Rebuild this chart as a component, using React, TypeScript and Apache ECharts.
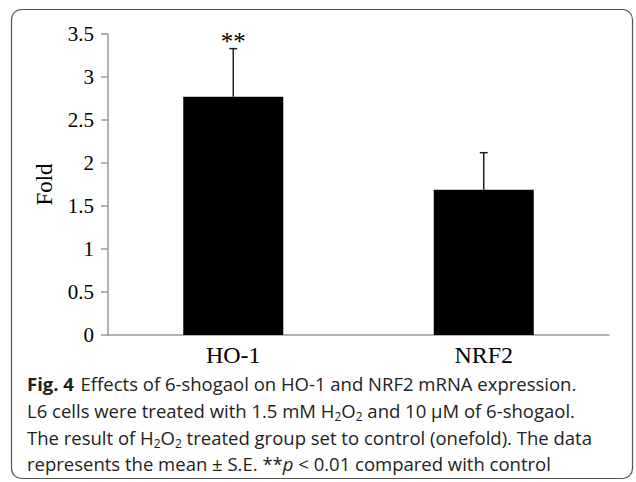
import React, { useEffect, useRef } from "react";
import * as echarts from "echarts";

const categories = ["HO-1", "NRF2"];
const means = [2.77, 1.69];
const upperErrors = [3.33, 2.12];
const significance = ["**", ""];
const yTicks = { min: 0, max: 3.5, interval: 0.5 };

const serif = "'Liberation Serif', 'Times New Roman', serif";
const sans = "'Open Sans', 'Noto Sans', sans-serif";

export default function App() {
  const ref = useRef<HTMLDivElement>(null);
  useEffect(() => {
    if (!ref.current) return;
    const chart = echarts.init(ref.current, undefined, { renderer: "svg" });
    const capFont = 18.5;
    const lineStyles = {
      b: { fontFamily: sans, fontSize: capFont, fontWeight: "bold", fill: "#222" },
      n: { fontFamily: sans, fontSize: capFont, fill: "#222" },
      i: { fontFamily: sans, fontSize: capFont, fontStyle: "italic", fill: "#222" },
      s: { fontFamily: sans, fontSize: 12, fill: "#222", padding: [13, 0, 0, 0] },
    };
    const captionLines = [
      "{b|Fig. 4}  {n|Effects of 6-shogaol on HO-1 and NRF2 mRNA expression.}",
      "{n|L6 cells were treated with 1.5 mM H}{s|2}{n|O}{s|2}{n| and 10 μM of 6-shogaol.}",
      "{n|The result of H}{s|2}{n|O}{s|2}{n| treated group set to control (onefold). The data}",
      "{n|represents the mean ± S.E. **}{i|p}{n| < 0.01 compared with control}",
    ];
    const captionY = [383, 410, 437, 463];
    chart.setOption({
      animation: false,
      backgroundColor: "#fff",
      grid: { left: 108, right: 27, top: 34, bottom: 147 },
      xAxis: {
        type: "category",
        data: categories,
        axisLine: { lineStyle: { color: "#999", width: 1.5 } },
        axisTick: { show: false },
        axisLabel: { fontFamily: serif, fontSize: 24, color: "#000", margin: 8 },
      },
      yAxis: {
        type: "value",
        min: yTicks.min,
        max: yTicks.max,
        interval: yTicks.interval,
        name: "Fold",
        nameLocation: "middle",
        nameRotate: 90,
        nameGap: 52,
        nameTextStyle: { fontFamily: serif, fontSize: 23, color: "#000" },
        splitLine: { show: false },
        axisLine: { show: true, lineStyle: { color: "#999", width: 1.5 } },
        axisTick: { show: true, length: 7, lineStyle: { color: "#999", width: 1.5 } },
        axisLabel: { fontFamily: serif, fontSize: 21, color: "#000", margin: 14 },
      },
      series: [
        {
          type: "bar",
          data: means,
          barWidth: 100,
          itemStyle: { color: "#000" },
        },
        {
          type: "custom",
          data: means.map((m, i) => [i, m, upperErrors[i]]),
          encode: { x: 0, y: [1, 2] },
          renderItem: (params: any, api: any) => {
            const x = api.value(0);
            const p0 = api.coord([x, api.value(1)]);
            const p1 = api.coord([x, api.value(2)]);
            const children: any[] = [
              { type: "line", shape: { x1: p0[0], y1: p0[1], x2: p1[0], y2: p1[1] }, style: { stroke: "#222", lineWidth: 1.5 } },
              { type: "line", shape: { x1: p1[0] - 4, y1: p1[1], x2: p1[0] + 4, y2: p1[1] }, style: { stroke: "#222", lineWidth: 1.5 } },
            ];
            const mark = significance[params.dataIndex];
            if (mark) {
              children.push({
                type: "text",
                x: p1[0],
                y: p1[1] - 7,
                style: { text: mark, align: "center", verticalAlign: "middle", fontFamily: serif, fontSize: 25, fill: "#000" },
              });
            }
            return { type: "group", children };
          },
          z: 3,
        },
      ],
      graphic: [
        {
          type: "rect",
          shape: { x: 11.5, y: 9.5, width: 621, height: 469, r: 10 },
          style: { fill: "none", stroke: "#555", lineWidth: 1.2 },
          silent: true,
        },
        ...captionLines.map((t, i) => ({
          type: "text",
          x: 27,
          y: captionY[i],
          style: { text: t, verticalAlign: "middle", rich: lineStyles, fill: "#222" },
        })),
      ],
    });
    return () => chart.dispose();
  }, []);
  return <div ref={ref} style={{ position: "absolute", left: 0, top: 0, width: 636, height: 482 }} />;
}
